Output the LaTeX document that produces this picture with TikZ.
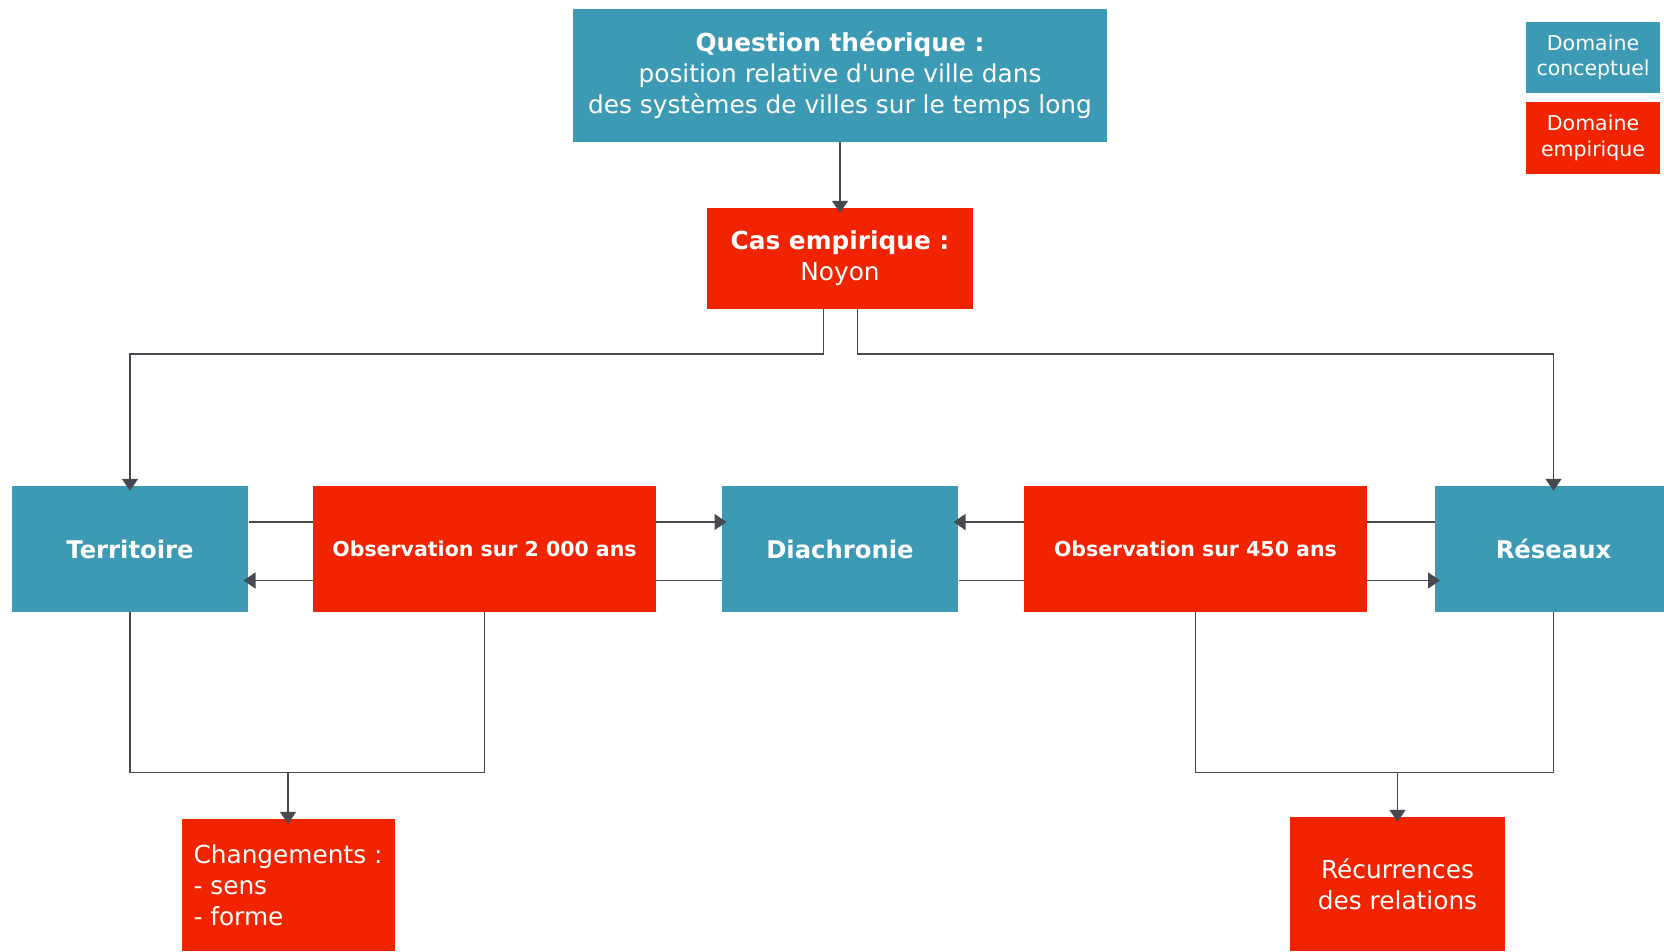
\documentclass[tikz,border=0pt]{standalone}
\usepackage{fontspec}
\setmainfont{DejaVu Sans}[Ligatures=TeXOff]
\usetikzlibrary{arrows.meta}
\definecolor{teal}{RGB}{61,154,180}
\definecolor{redbox}{RGB}{242,36,0}
\definecolor{linec}{RGB}{70,74,80}
\tikzset{
  concept/.style={fill=teal, text=white, inner sep=0pt, align=center},
  empir/.style={fill=redbox, text=white, inner sep=0pt, align=center},
  conn/.style={draw=linec, line width=1.6pt},
  arr/.style={conn, -{Triangle[width=16pt,length=12pt]}, shorten >=-5pt},
}
\begin{document}
\begin{tikzpicture}[x=1pt,y=-1pt]
\useasboundingbox (0,0) rectangle (1664,951);
% nodes
\node[concept, minimum width=534pt, minimum height=133pt, font=\fontsize{24.8}{31}\selectfont] (q) at (840,75)
  {\textbf{Question théorique :}\\position relative d'une ville dans\\des systèmes de villes sur le temps long};
\node[empir, minimum width=266pt, minimum height=101pt, font=\fontsize{24.8}{31}\selectfont] (cas) at (840,258.5)
  {\textbf{Cas empirique :}\\Noyon};
\node[concept, minimum width=236.6pt, minimum height=126pt, font=\bfseries\fontsize{24.3}{29}\selectfont] (terr) at (130,549) {Territoire};
\node[empir, minimum width=343pt, minimum height=126pt, font=\bfseries\fontsize{20.5}{25}\selectfont] (obs1) at (484.5,549) {Observation sur 2 000 ans};
\node[concept, minimum width=236.6pt, minimum height=126pt, font=\bfseries\fontsize{24.3}{29}\selectfont] (dia) at (840,549) {Diachronie};
\node[empir, minimum width=343pt, minimum height=126pt, font=\bfseries\fontsize{20.5}{25}\selectfont] (obs2) at (1195.4,549) {Observation sur 450 ans};
\node[concept, minimum width=236.6pt, minimum height=126pt, font=\bfseries\fontsize{24.3}{29}\selectfont] (res) at (1553.5,549) {Réseaux};
\node[empir, minimum width=213pt, minimum height=132pt, font=\fontsize{24.8}{31}\selectfont, align=left] (chg) at (288,885)
  {Changements :\\- sens\\- forme};
\node[empir, minimum width=215pt, minimum height=134pt, font=\fontsize{24.8}{31}\selectfont] (rec) at (1397.5,884)
  {Récurrences\\des relations};
\node[concept, minimum width=134pt, minimum height=71pt, font=\fontsize{20.5}{25.5}\selectfont] (leg1) at (1593,57.5)
  {Domaine\\conceptuel};
\node[empir, minimum width=134pt, minimum height=72pt, font=\fontsize{20.5}{25.5}\selectfont] (leg2) at (1593,138)
  {Domaine\\empirique};
% connectors
\draw[arr] (q.south) -- (cas.north);
\draw[arr] ([xshift=-16.5pt]cas.south) -- ++(0,45) -| (terr.north);
\draw[arr] ([xshift=17.5pt]cas.south) -- ++(0,45) -| (res.north);
% horizontal
\draw[conn] ([yshift=27pt]terr.east) -- ([yshift=27pt]obs1.west);
\draw[arr] ([yshift=27pt]obs1.east) -- ([yshift=27pt]dia.west);
\draw[conn] ([yshift=-31.5pt]dia.west) -- ([yshift=-31.5pt]obs1.east);
\draw[arr] ([yshift=-31.5pt]obs1.west) -- ([yshift=-31.5pt]terr.east);
\draw[conn] ([yshift=27pt]res.west) -- ([yshift=27pt]obs2.east);
\draw[arr] ([yshift=27pt]obs2.west) -- ([yshift=27pt]dia.east);
\draw[conn] ([yshift=-31.5pt]dia.east) -- ([yshift=-31.5pt]obs2.west);
\draw[arr] ([yshift=-31.5pt]obs2.east) -- ([yshift=-31.5pt]res.west);
% bottom
\coordinate (bl) at (288,772.6);
\coordinate (br) at (1397.5,772.6);
\draw[conn] (terr.south) -- (terr.south |- bl) -- (obs1.south |- bl) -- (obs1.south);
\draw[arr] (bl) -- (chg.north);
\draw[conn] (obs2.south) -- (obs2.south |- br) -- (res.south |- br) -- (res.south);
\draw[arr] (br) -- (rec.north);
\end{tikzpicture}
\end{document}
